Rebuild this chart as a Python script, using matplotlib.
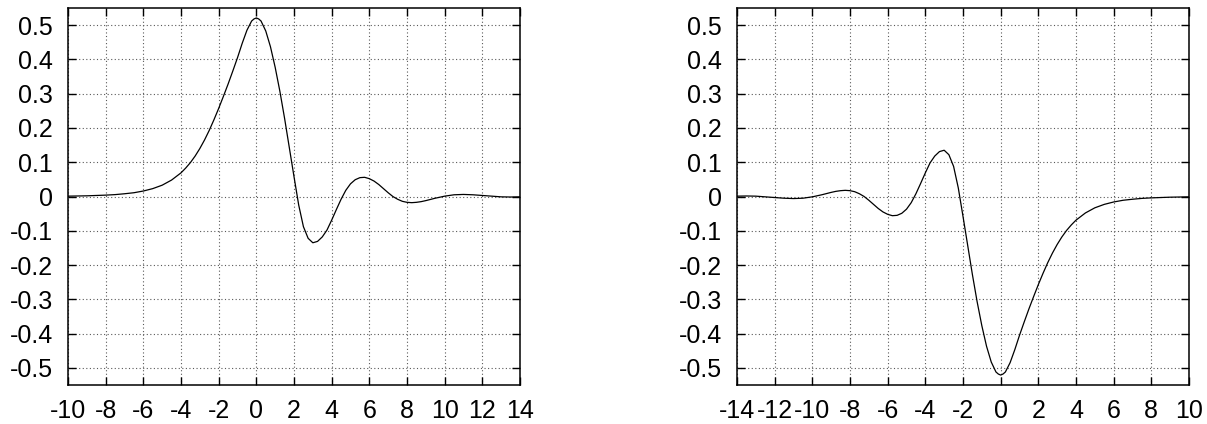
import matplotlib
matplotlib.use("Agg")
import matplotlib.pyplot as plt

plt.rcParams['font.family'] = ['Liberation Sans', 'DejaVu Sans']

# left panel, values
left_x = [-10, -9.5, -9, -8.5, -8, -7.5, -7, -6.5, -6, -5.5, -5, -4.5, -4,
          -3.75, -3.5, -3.25, -3, -2.75, -2.5, -2.25, -2, -1.75, -1.5, -1.25,
          -1, -0.75, -0.5, -0.25, -0.125, 0, 0.125, 0.25, 0.5, 0.75, 1, 1.25,
          1.5, 1.75, 2, 2.25, 2.5, 2.75, 3, 3.25, 3.5, 3.75, 4, 4.25, 4.5,
          4.75, 5, 5.25, 5.5, 5.75, 6, 6.25, 6.5, 6.75, 7, 7.25, 7.5, 7.75, 8,
          8.25, 8.5, 8.75, 9, 9.5, 10, 10.5, 11, 11.5, 12, 12.5, 13, 13.5, 14]
left_y = [0.001, 0.0015, 0.002, 0.003, 0.004, 0.0055, 0.008, 0.011, 0.016,
          0.023, 0.033, 0.048, 0.069, 0.083, 0.099, 0.118, 0.140, 0.165, 0.193,
          0.224, 0.257, 0.292, 0.328, 0.366, 0.405, 0.447, 0.485, 0.512, 0.518,
          0.521, 0.518, 0.512, 0.483, 0.437, 0.377, 0.307, 0.228, 0.143, 0.058,
          -0.025, -0.088, -0.122, -0.135, -0.131, -0.118, -0.098, -0.069,
          -0.038, -0.008, 0.018, 0.037, 0.049, 0.055, 0.056, 0.052, 0.045,
          0.035, 0.023, 0.011, 0.000, -0.008, -0.014, -0.017, -0.018, -0.017,
          -0.015, -0.012, -0.005, 0.001, 0.005, 0.006, 0.005, 0.003, 0.001,
          -0.001, -0.0015, -0.001]

# right panel, values
right_x = [-14, -13.5, -13, -12.5, -12, -11.5, -11, -10.5, -10, -9.5, -9,
           -8.75, -8.5, -8.25, -8, -7.75, -7.5, -7.25, -7, -6.75, -6.5, -6.25,
           -6, -5.75, -5.5, -5.25, -5, -4.75, -4.5, -4.25, -4, -3.75, -3.5,
           -3.25, -3, -2.75, -2.5, -2.25, -2, -1.75, -1.5, -1.25, -1, -0.75,
           -0.5, -0.25, -0.125, 0, 0.125, 0.25, 0.5, 0.75, 1, 1.25, 1.5, 1.75,
           2, 2.25, 2.5, 2.75, 3, 3.25, 3.5, 3.75, 4, 4.5, 5, 5.5, 6, 6.5, 7,
           7.5, 8, 8.5, 9, 9.5, 10]
right_y = [0.001, 0.0015, 0.001, -0.001, -0.003, -0.005, -0.006, -0.005,
           -0.001, 0.005, 0.012, 0.015, 0.017, 0.018, 0.017, 0.014, 0.008,
           0.000, -0.011, -0.023, -0.035, -0.045, -0.052, -0.056, -0.055,
           -0.049, -0.037, -0.018, 0.008, 0.038, 0.069, 0.098, 0.118, 0.131,
           0.135, 0.122, 0.088, 0.025, -0.058, -0.143, -0.228, -0.307, -0.377,
           -0.437, -0.483, -0.512, -0.518, -0.521, -0.518, -0.512, -0.485,
           -0.447, -0.405, -0.366, -0.328, -0.292, -0.257, -0.224, -0.193,
           -0.165, -0.140, -0.118, -0.099, -0.083, -0.069, -0.048, -0.033,
           -0.023, -0.016, -0.011, -0.008, -0.0055, -0.004, -0.003, -0.002,
           -0.0015, -0.001]

left_xticks = list(range(-10, 15, 2))
right_xticks = list(range(-14, 11, 2))
yticks = [-0.5, -0.4, -0.3, -0.2, -0.1, 0, 0.1, 0.2, 0.3, 0.4, 0.5]
ytick_labels = ['-0.5', '-0.4', '-0.3', '-0.2', '-0.1', '0',
                '0.1', '0.2', '0.3', '0.4', '0.5']

fig = plt.figure(figsize=(12.07, 4.24), dpi=100)
ax1 = fig.add_axes([68 / 1207, 39 / 424, 452 / 1207, 377 / 424])
ax2 = fig.add_axes([737 / 1207, 39 / 424, 452 / 1207, 377 / 424])

panels = [(ax1, left_x, left_y, left_xticks), (ax2, right_x, right_y, right_xticks)]
for ax, xs, ys, xt in panels:
    ax.plot(xs, ys, color='black', lw=0.9)
    ax.set_xlim(xt[0], xt[-1])
    ax.set_ylim(-0.55, 0.55)
    ax.set_xticks(xt)
    ax.set_xticklabels([str(v) for v in xt])
    ax.set_yticks(yticks)
    ax.set_yticklabels(ytick_labels)
    ax.tick_params(direction='in', length=6, width=1, top=True, right=True,
                   labelsize=18, colors='black')
    ax.tick_params(axis='y', pad=11)
    ax.tick_params(axis='x', pad=10)
    ax.grid(True, color='0.35', linestyle=(0, (1, 2.2)), lw=0.8)
    for s in ax.spines.values():
        s.set_linewidth(1.1)

fig.savefig('out.png', dpi=100)
